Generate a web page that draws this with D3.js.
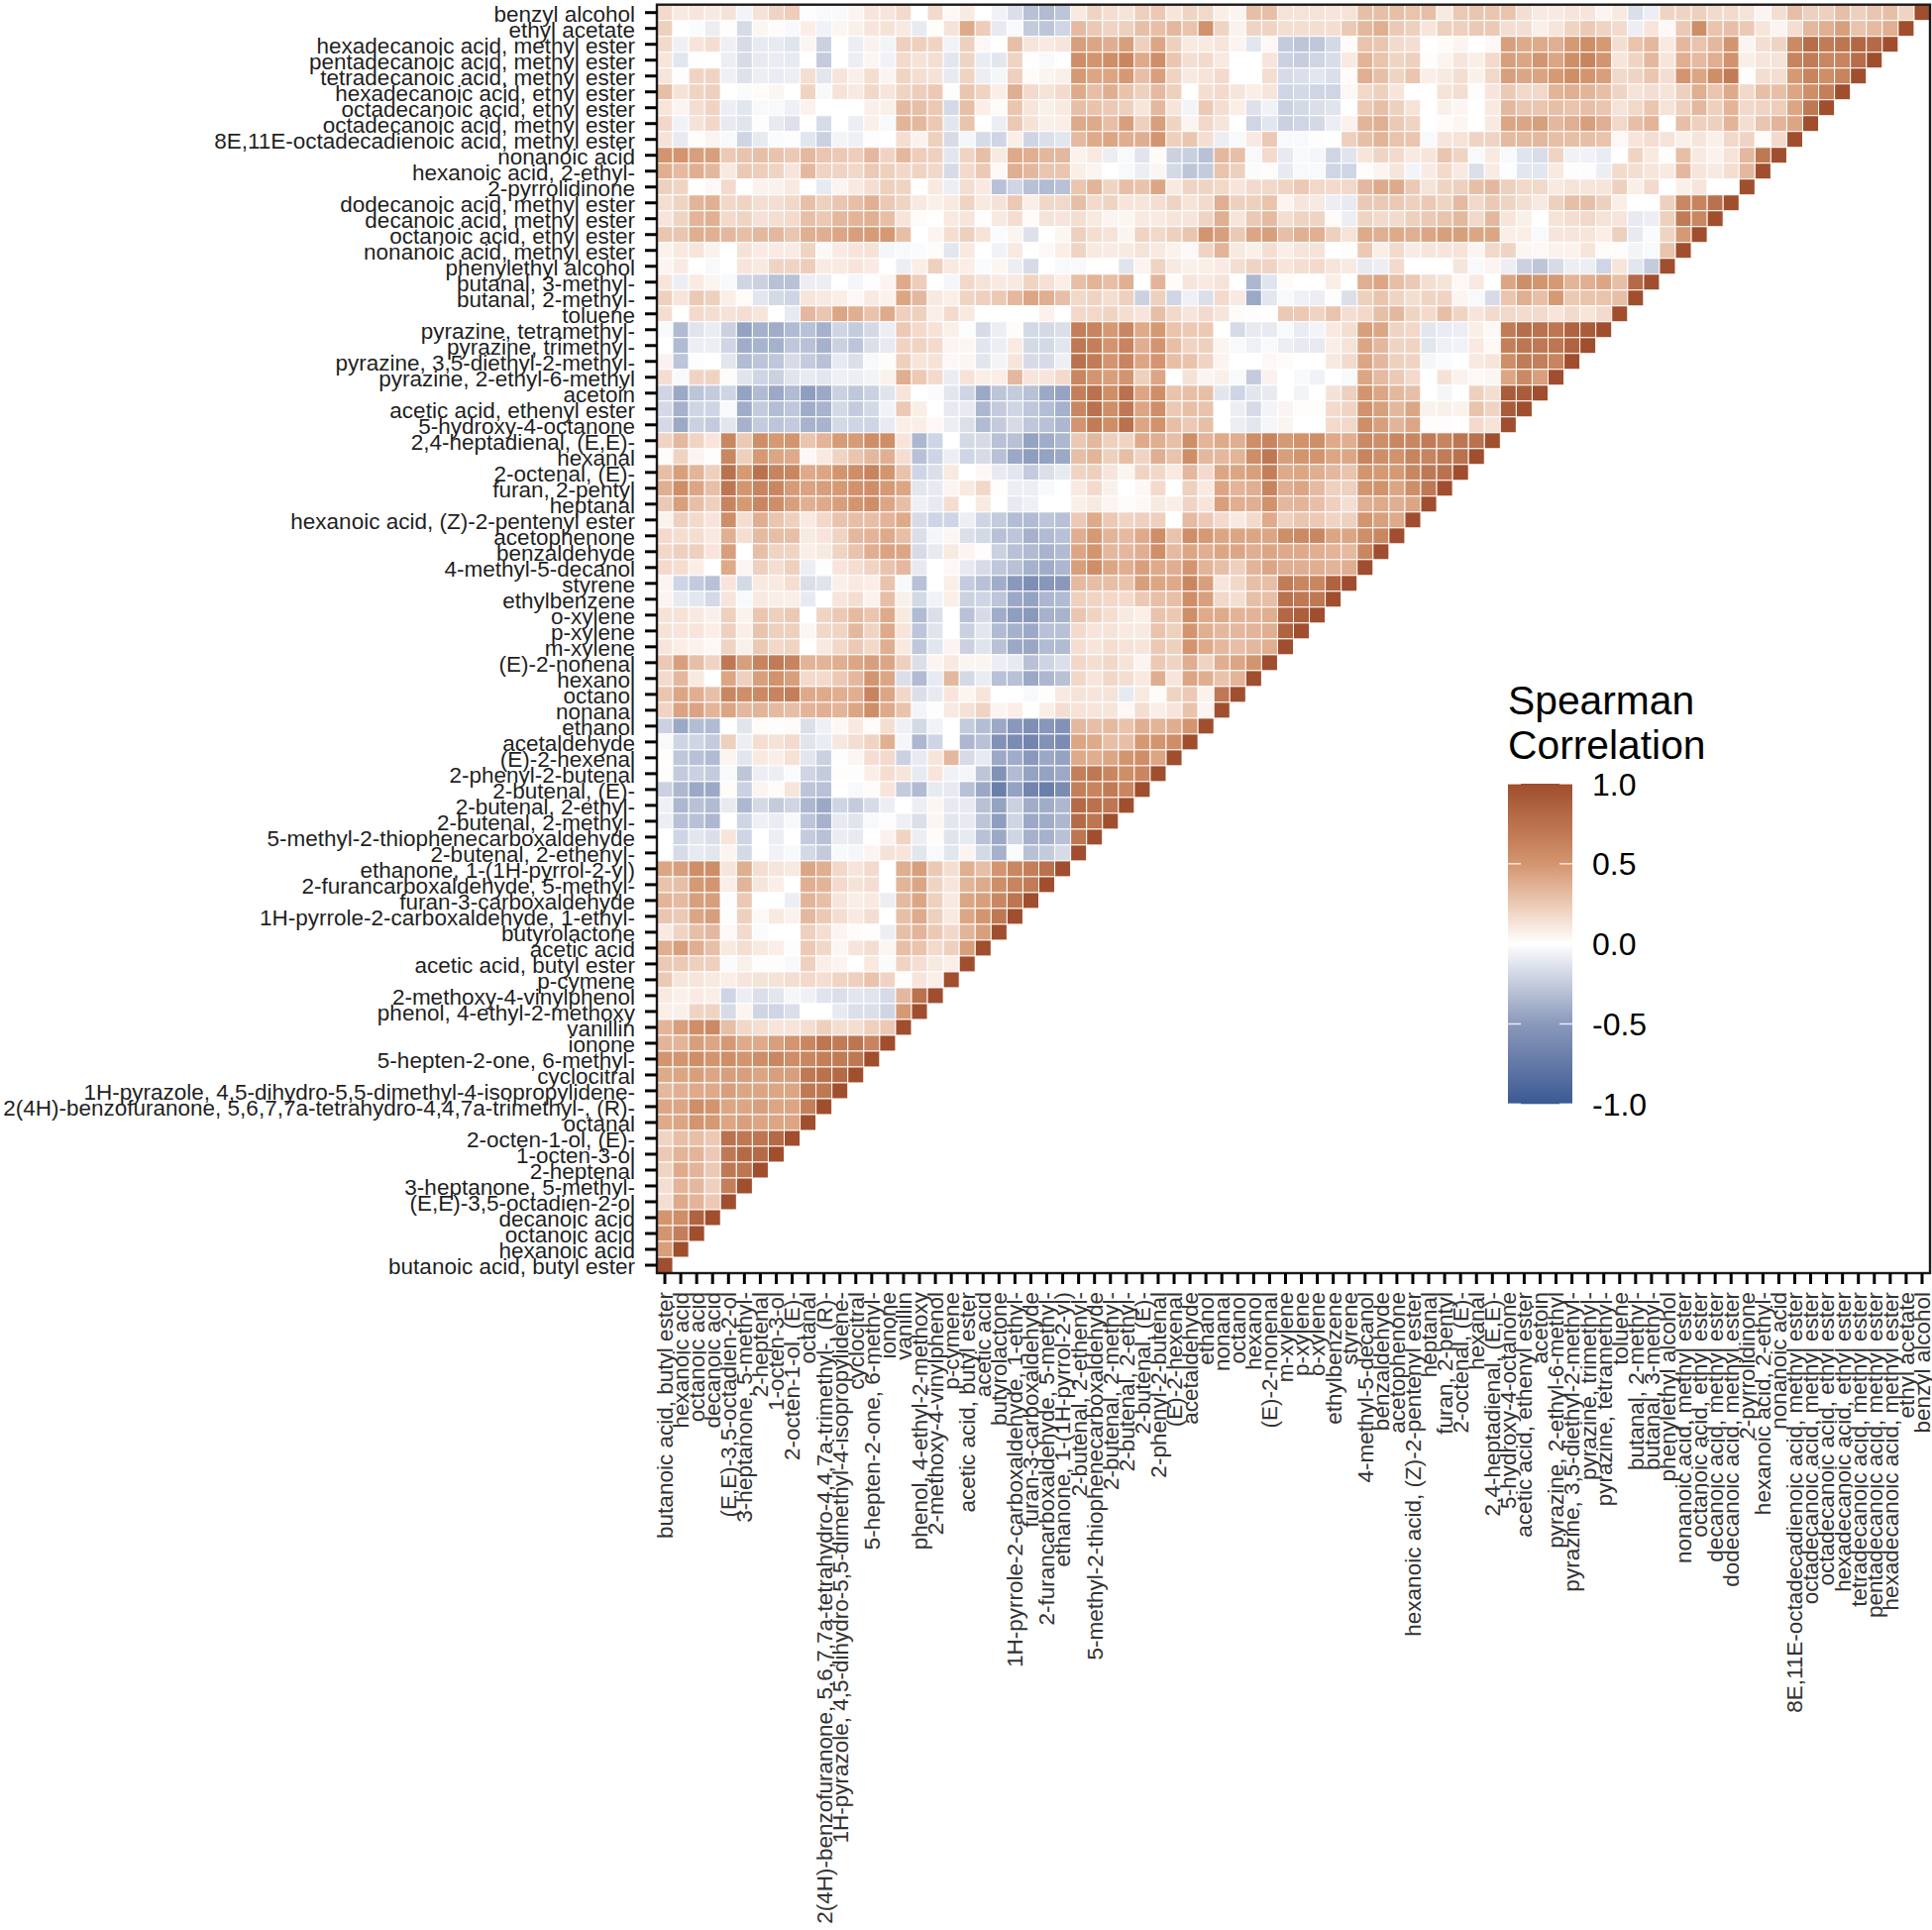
<!DOCTYPE html>
<html><head><meta charset="utf-8">
<script src="https://cdn.jsdelivr.net/npm/d3@7"></script>
<style>html,body{margin:0;padding:0;background:#fff}svg{display:block}text{font-family:"Liberation Sans",Arial,sans-serif}</style>
</head><body><div id="chart"></div>
<script>
// compounds, top to bottom on the y axis; the x axis runs the opposite way
const compounds = ["benzyl alcohol","ethyl acetate","hexadecanoic acid, methyl ester","pentadecanoic acid, methyl ester","tetradecanoic acid, methyl ester","hexadecanoic acid, ethyl ester","octadecanoic acid, ethyl ester","octadecanoic acid, methyl ester","8E,11E-octadecadienoic acid, methyl ester","nonanoic acid","hexanoic acid, 2-ethyl-","2-pyrrolidinone","dodecanoic acid, methyl ester","decanoic acid, methyl ester","octanoic acid, ethyl ester","nonanoic acid, methyl ester","phenylethyl alcohol","butanal, 3-methyl-","butanal, 2-methyl-","toluene","pyrazine, tetramethyl-","pyrazine, trimethyl-","pyrazine, 3,5-diethyl-2-methyl-","pyrazine, 2-ethyl-6-methyl","acetoin","acetic acid, ethenyl ester","5-hydroxy-4-octanone","2,4-heptadienal, (E,E)-","hexanal","2-octenal, (E)-","furan, 2-pentyl","heptanal","hexanoic acid, (Z)-2-pentenyl ester","acetophenone","benzaldehyde","4-methyl-5-decanol","styrene","ethylbenzene","o-xylene","p-xylene","m-xylene","(E)-2-nonenal","hexanol","octanol","nonanal","ethanol","acetaldehyde","(E)-2-hexenal","2-phenyl-2-butenal","2-butenal, (E)-","2-butenal, 2-ethyl-","2-butenal, 2-methyl-","5-methyl-2-thiophenecarboxaldehyde","2-butenal, 2-ethenyl-","ethanone, 1-(1H-pyrrol-2-yl)","2-furancarboxaldehyde, 5-methyl-","furan-3-carboxaldehyde","1H-pyrrole-2-carboxaldehyde, 1-ethyl-","butyrolactone","acetic acid","acetic acid, butyl ester","p-cymene","2-methoxy-4-vinylphenol","phenol, 4-ethyl-2-methoxy","vanillin","ionone","5-hepten-2-one, 6-methyl-","cyclocitral","1H-pyrazole, 4,5-dihydro-5,5-dimethyl-4-isopropylidene-","2(4H)-benzofuranone, 5,6,7,7a-tetrahydro-4,4,7a-trimethyl-, (R)-","octanal","2-octen-1-ol, (E)-","1-octen-3-ol","2-heptenal","3-heptanone, 5-methyl-","(E,E)-3,5-octadien-2-ol","decanoic acid","octanoic acid","hexanoic acid","butanoic acid, butyl ester"];

// Spearman correlation x100, one list per y-axis row, read left to right from the first x category
const row00=[17,10,12,10,13,-5,13,20,23,-1,-3,-3,5,12,12,17,0,17,3,9,0,-6,-15,-30,-33,-28,10,20,15,13,22,25,12,20,18,8,5,30,30,13,13,13,12,13,30,30,30,28,30,10,25,27,27,28,15,10,10,12,12,5,10,-15,-8,20,20,22,17,17,13,5,15,30,22,22,30,22,27,30,20,100];
const row01=[22,0,-2,-8,1,-17,4,2,-3,8,-6,4,7,12,13,10,-10,1,13,40,23,-10,-3,-25,-28,-20,32,25,20,22,30,30,33,28,52,20,6,20,20,15,15,15,15,25,33,38,25,22,12,22,22,25,25,15,15,7,12,20,25,20,17,-8,12,3,25,55,28,30,25,12,5,15,33,38,45,28,32,38,100];
const row02=[17,-7,12,15,-7,-17,-10,-10,-13,4,-22,0,-8,6,-5,22,22,20,-6,22,3,0,30,12,10,12,45,42,38,45,22,42,22,10,10,12,5,-12,3,-25,-28,-27,-18,2,28,27,17,15,0,2,5,0,3,45,40,40,38,48,55,48,15,28,33,10,33,28,33,50,5,15,20,58,78,68,72,82,80,100];
const row03=[12,-12,0,0,-8,-17,-10,-9,-10,0,-25,0,-8,4,-6,17,13,15,-12,20,-9,-12,20,0,-3,0,55,50,55,60,40,55,27,15,17,10,0,0,12,-22,-24,-20,-16,10,35,28,20,22,1,5,12,8,17,45,42,50,42,55,62,50,12,20,33,12,38,32,38,52,8,12,13,62,68,60,62,78,100];
const row04=[12,-1,20,20,-7,-14,-8,-9,-8,15,-12,12,7,15,5,20,15,13,-10,20,-8,-4,22,2,5,7,48,42,42,48,30,45,20,10,13,17,0,0,15,-17,-15,-12,-15,2,38,30,20,27,8,10,15,7,18,45,42,43,48,55,50,45,18,20,27,15,50,42,55,68,1,15,15,48,62,55,62,100];
const row05=[30,13,20,22,0,-2,2,4,0,20,-3,13,10,18,12,20,23,25,-1,27,20,8,38,17,13,17,40,30,38,28,22,32,22,0,15,17,12,8,12,-20,-18,-20,-20,3,18,22,12,0,0,13,15,1,12,25,18,18,35,38,35,30,20,13,15,13,22,38,27,40,18,30,30,42,55,65,100];
const row06=[12,5,15,20,-8,-12,-3,-3,-7,6,0,0,0,7,7,32,30,25,-18,30,8,2,27,12,7,10,30,28,25,22,12,33,12,-5,25,15,8,-14,-6,-22,-18,-15,-13,0,25,30,22,13,0,7,4,0,10,33,27,27,30,28,30,27,13,18,27,13,22,33,22,35,18,20,23,42,70,100];
const row07=[18,-6,13,18,-10,-13,-1,-10,-14,0,-17,0,-8,7,-3,35,33,25,-12,28,0,-8,25,13,7,8,40,40,30,45,22,45,20,5,18,12,0,-20,-12,-22,-20,-18,-8,6,35,38,25,20,0,2,4,0,10,42,42,45,33,38,45,38,18,30,35,0,30,22,22,35,15,27,35,42,100];
const row08=[13,-10,1,5,-3,-20,-10,-2,-1,-12,-22,-5,-7,-1,0,15,6,22,-17,-4,-17,-20,8,-20,-15,-12,32,40,42,38,38,50,22,27,15,-8,-3,10,25,-3,-3,-1,0,22,30,35,28,27,-3,12,13,20,20,32,32,33,30,30,30,28,3,12,15,13,7,12,7,18,20,2,17,100];
const row09=[50,50,45,45,25,28,30,28,25,33,27,25,23,33,20,33,23,22,-12,20,30,10,40,38,33,33,6,10,-8,-3,-13,2,-22,-23,-30,33,30,-3,17,-10,-3,-4,-20,-13,12,20,17,10,12,27,20,-3,10,-3,-13,-16,20,-6,-6,-9,0,20,10,-1,30,10,6,13,33,70,100];
const row10=[38,32,38,33,10,25,23,20,12,33,20,20,18,25,22,18,20,18,-17,17,25,3,38,33,27,27,8,5,0,-3,-8,4,-18,-28,-25,28,22,-2,1,-10,-3,-3,-20,-20,1,5,12,-5,9,17,10,-15,9,-1,-12,-12,10,-1,-1,-8,17,15,12,10,33,12,10,15,33,100];
const row11=[22,20,0,3,17,0,6,6,10,0,-10,5,10,15,22,20,0,10,-8,15,10,-30,-20,-30,-33,-30,27,35,20,30,28,42,10,20,20,18,12,17,18,20,25,18,17,18,33,40,40,25,13,20,22,30,33,22,18,18,10,13,12,12,22,8,17,0,7,12,0,0,100];
const row12=[15,20,35,37,18,20,15,15,18,30,22,27,30,37,25,20,10,7,10,20,10,13,25,8,18,18,30,17,20,12,12,15,20,13,17,38,22,22,28,5,12,10,-8,-10,25,25,25,22,25,20,32,18,25,20,15,10,22,30,30,22,8,0,0,22,60,62,75,100];
const row13=[12,20,35,37,17,20,14,15,17,30,25,33,35,37,30,12,2,0,10,12,1,10,15,2,13,12,15,10,5,4,10,9,12,12,20,38,12,25,32,15,20,20,2,-8,20,17,17,22,25,28,33,18,33,12,7,0,13,15,18,13,12,-10,-8,22,68,60,100];
const row14=[27,27,38,37,33,30,33,33,27,38,38,42,45,47,48,30,0,5,15,22,13,-2,5,-14,0,4,22,15,13,5,20,18,22,27,50,45,25,42,45,30,37,37,22,13,40,38,40,38,42,45,45,42,42,8,8,-3,12,12,12,8,22,-10,-2,20,48,100];
const row15=[6,10,12,6,0,13,9,9,9,20,3,9,12,13,-4,-3,-2,2,-12,10,0,-6,10,0,3,8,20,10,9,10,13,10,6,3,20,35,10,7,15,8,12,13,0,-1,25,8,17,9,12,12,13,5,18,20,4,3,6,6,12,2,1,-5,-3,28,100];
const row16=[5,9,0,-3,0,12,10,20,20,23,9,10,12,9,0,-8,8,22,10,8,-2,4,-8,-17,0,-3,-3,0,0,-13,5,20,10,7,8,9,15,20,20,12,15,17,12,10,-10,-8,17,0,0,0,12,-3,5,-8,-22,-28,-17,-8,-8,-20,12,-12,-25,100];
const row17=[12,-8,9,5,-3,-20,-22,-30,-30,-8,-8,0,-4,-1,5,40,23,0,-4,18,13,10,10,20,14,8,30,35,30,37,0,35,2,12,10,13,0,-35,-13,2,0,0,8,0,38,42,30,25,15,13,3,10,0,42,55,50,48,35,38,42,30,80,100];
const row18=[22,12,25,22,8,2,-12,-18,-20,12,10,8,3,10,6,42,33,10,8,20,22,25,33,42,38,30,18,20,15,22,-22,22,-20,-7,-15,17,10,-42,-12,-3,-7,-8,-1,-15,22,28,20,15,20,20,5,-3,-17,27,38,30,48,25,28,28,30,100];
const row19=[15,0,17,15,13,15,12,0,-10,33,27,42,38,28,40,22,22,8,17,10,0,0,0,0,6,0,18,18,20,15,12,30,18,12,17,12,2,-1,0,25,25,20,28,15,18,30,33,20,17,30,20,12,17,18,16,17,12,17,12,17,100];
const row20=[-3,-33,-13,-9,-22,-45,-38,-40,-33,-30,-38,-20,-25,-18,-8,25,17,13,7,-1,-17,-8,2,-18,-18,-15,65,62,48,60,40,48,28,25,25,0,-17,-10,-10,-3,-9,-5,10,15,45,42,20,18,-12,-9,-8,8,3,68,78,75,72,85,90,100];
const row21=[0,-33,-8,-8,-20,-40,-37,-38,-27,-30,-38,-22,-28,-15,-10,20,20,17,5,4,-12,-8,9,-18,-18,-12,70,65,50,62,38,50,30,20,22,5,-3,-7,-3,-8,-10,-10,8,13,42,33,20,20,-12,-7,-6,10,3,65,72,70,72,85,100];
const row22=[6,-28,-1,0,-12,-33,-28,-27,-17,-25,-30,-10,-15,-3,2,22,12,13,3,4,-12,-5,12,-17,-17,-7,75,68,50,62,42,50,30,28,20,5,0,0,3,2,0,0,10,17,42,33,22,20,-4,-2,0,10,12,55,68,65,62,100];
const row23=[15,-3,20,20,2,-13,-20,-22,-13,-10,-12,-7,-8,-5,6,38,25,17,-9,13,8,8,33,12,12,17,60,50,45,50,22,42,0,13,5,7,-3,-25,6,0,-3,-6,0,-3,42,32,25,17,0,13,6,3,4,42,58,45,100];
const row24=[-20,-42,-28,-25,-20,-45,-33,-42,-33,-48,-42,-22,-27,-22,-13,12,0,-2,-12,-20,-42,-28,-25,-30,-42,-45,65,75,55,75,42,55,28,30,30,-12,-20,-12,-10,0,-5,0,13,22,50,42,33,30,0,-4,0,22,15,90,90,100];
const row25=[-18,-38,-20,-20,-3,-40,-25,-32,-27,-40,-37,-18,-25,-18,-6,25,8,0,-10,-10,-35,-25,-20,-27,-32,-38,60,75,55,70,42,55,25,30,28,0,-8,-17,-5,5,1,1,17,20,52,45,33,42,6,7,6,28,20,90,100];
const row26=[-18,-42,-22,-25,-12,-38,-25,-28,-25,-37,-37,-18,-20,-20,-10,8,8,3,-8,-15,-33,-25,-17,-27,-30,-35,50,68,55,75,42,52,30,25,30,0,-8,-12,-4,5,0,0,17,18,55,45,35,42,1,1,0,17,13,100];
const row27=[20,33,20,12,60,25,55,48,50,27,35,47,47,55,55,12,-35,-20,0,-18,-17,-30,-30,-45,-40,-35,25,33,22,20,40,38,30,55,35,40,38,55,62,48,52,55,40,38,58,55,60,60,68,62,72,75,100];
const row28=[2,20,5,-1,60,22,48,42,40,3,10,20,27,33,37,15,-30,-20,-8,-20,-17,-30,-42,-48,-45,-42,30,35,22,30,20,38,28,55,33,33,35,55,70,45,50,50,42,42,62,55,52,62,62,68,75,100];
const row29=[30,45,35,22,75,48,75,62,60,40,42,50,55,62,50,28,-20,-15,10,0,3,-10,-12,-25,-15,-10,20,22,12,5,20,18,10,33,17,42,42,45,65,40,42,38,33,28,50,48,48,60,70,75,100];
const row30=[38,55,42,30,72,50,62,60,47,43,45,48,52,55,48,42,-12,-10,5,10,18,1,-8,-8,-3,0,10,17,7,0,3,17,0,22,10,42,35,38,62,38,42,32,22,22,50,52,42,55,70,100];
const row31=[25,45,30,22,62,48,60,55,45,37,40,45,50,55,42,30,-7,-10,15,0,10,0,-10,-7,0,0,7,10,5,2,3,10,8,20,12,45,38,38,52,33,35,30,22,15,38,40,38,42,100];
const row32=[6,22,17,12,55,15,38,27,22,10,18,28,30,30,35,40,-17,-20,-20,-8,-20,-25,-32,-33,-28,-30,25,40,25,20,22,22,0,32,25,17,10,17,40,22,27,25,20,22,50,45,40,100];
const row33=[17,15,15,10,37,15,32,30,30,10,12,20,33,35,40,30,-15,-4,4,-15,-18,-30,-28,-38,-33,-30,38,48,35,32,40,55,28,55,48,42,42,42,42,55,58,60,42,42,55,60,100];
const row34=[18,22,22,12,45,0,30,20,20,8,10,20,28,38,43,42,-17,-10,10,5,1,-22,-30,-33,-37,-33,42,50,33,33,38,55,32,42,38,42,42,38,42,40,40,38,35,32,60,100];
const row35=[17,15,8,0,40,4,22,15,22,-8,-1,12,15,20,28,33,-10,0,3,-10,-17,-27,-30,-38,-40,-35,45,55,42,38,45,40,38,50,35,30,22,35,42,38,38,38,35,38,100];
const row36=[5,-20,-25,-30,12,-18,10,10,15,-15,-13,7,10,8,28,-3,-30,0,8,-25,-30,-40,-50,-58,-52,-50,32,30,30,28,45,42,40,60,45,12,18,30,30,68,60,60,85,100];
const row37=[5,-10,-12,-18,12,-3,10,8,8,-10,0,12,15,6,30,7,-18,-6,8,-22,-20,-28,-42,-45,-35,-33,22,20,18,17,25,30,30,55,45,18,15,30,30,75,70,70,100];
const row38=[13,13,10,7,22,6,27,22,25,0,20,25,32,27,40,10,-33,-15,0,-30,-17,-40,-48,-50,-38,-37,27,20,15,10,8,28,25,55,40,40,35,35,38,82,88,100];
const row39=[13,12,12,8,22,8,28,22,22,4,18,20,33,20,40,12,-28,-13,0,-22,-12,-33,-38,-42,-30,-30,17,12,13,10,10,28,22,50,38,33,33,35,38,85,100];
const row40=[12,8,6,3,20,7,25,18,20,0,10,18,25,18,38,10,-27,-12,5,-22,-13,-30,-42,-43,-33,-33,15,12,15,13,12,25,22,50,40,33,30,33,38,100];
const row41=[25,45,30,20,70,45,62,68,62,35,35,38,42,45,42,22,-15,5,10,5,5,-8,-10,-30,-20,-15,18,15,18,13,5,25,20,38,20,38,42,50,100];
const row42=[17,33,10,0,42,22,45,52,45,17,17,25,33,50,42,-15,-33,-10,33,-18,-9,-30,-30,-42,-35,-30,18,12,18,15,10,38,12,42,38,28,35,100];
const row43=[27,42,38,30,60,55,58,62,65,40,40,38,38,62,42,18,-15,-10,12,5,12,0,0,-3,1,10,13,12,13,-10,10,2,20,25,6,70,100];
const row44=[20,43,43,35,42,33,35,32,30,35,37,35,42,55,40,28,-5,-1,10,14,20,5,8,0,8,15,13,12,12,3,15,8,12,28,5,100];
const row45=[-22,-42,-32,-33,0,-13,2,1,2,-15,-7,3,10,2,15,-7,-18,-6,0,-25,-32,-42,-50,-58,-52,-55,33,30,32,28,38,35,38,50,100];
const row46=[-3,-20,-20,-25,22,-8,15,13,17,-13,-9,11,15,20,37,-4,-35,-20,0,-35,-30,-55,-60,-65,-55,-60,42,40,30,30,48,50,55,100];
const row47=[1,-27,-30,-33,5,-12,10,8,14,-12,-22,-1,4,15,17,-22,-10,12,33,-17,-10,-42,-40,-50,-42,-45,40,38,42,50,55,42,100];
const row48=[1,-25,-22,-25,-3,-28,-8,-8,-2,-20,-25,1,1,8,15,12,-10,12,-6,-4,-28,-55,-33,-45,-45,-42,65,70,60,55,60,100];
const row49=[-22,-35,-42,-42,2,-22,5,2,12,-28,-30,0,-3,2,12,-25,-33,-10,-10,-30,-42,-70,-45,-65,-70,-60,65,62,68,60,100];
const row50=[-7,-35,-30,-33,-10,-35,-18,-25,-20,-35,-42,-20,-25,-17,-8,0,-8,4,-10,-10,-30,-45,-22,-40,-40,-35,80,75,72,100];
const row51=[-8,-30,-30,-35,0,-20,-7,-9,-3,-28,-38,-10,-13,-3,-1,-7,-15,4,-12,-10,-28,-48,-20,-42,-40,-35,80,72,100];
const row52=[0,-20,-12,-15,12,-20,0,-8,0,-25,-30,-9,-10,0,6,20,-8,2,-13,-10,-30,-42,-20,-38,-38,-30,72,100];
const row53=[0,-17,-10,-12,5,-18,0,-6,-3,-18,-25,-3,-4,5,13,12,-12,-3,-12,5,-18,-38,-2,-30,-25,-17,100];
const row54=[42,45,55,55,12,38,15,12,10,42,38,18,12,17,0,38,45,25,15,38,30,50,60,65,75,100];
const row55=[28,30,48,50,8,35,12,8,0,38,35,17,13,15,0,35,42,20,12,35,40,55,62,68,100];
const row56=[35,32,45,45,-1,25,0,0,-8,35,30,12,8,10,-8,32,42,22,10,42,45,60,72,100];
const row57=[27,25,42,45,-1,22,3,10,6,33,25,15,10,15,0,30,40,22,10,42,50,70,100];
const row58=[10,20,30,33,3,17,-2,0,0,22,15,5,2,1,-8,30,35,25,18,35,45,100];
const row59=[38,45,38,30,10,15,10,8,1,25,18,4,12,15,4,30,28,17,22,45,100];
const row60=[25,25,22,22,-2,7,1,1,-3,22,8,5,0,10,-2,20,15,10,8,100];
const row61=[25,12,12,10,8,12,13,13,15,17,15,20,22,28,20,1,12,8,100];
const row62=[10,7,9,8,-20,-8,-15,-12,-4,-7,-13,-15,-12,-13,-17,33,75,100];
const row63=[8,7,20,20,-17,5,-20,-20,-15,0,0,-10,-15,-15,-20,48,100];
const row64=[35,45,55,58,30,18,15,12,12,15,22,15,15,22,25,100];
const row65=[35,35,45,42,48,40,40,45,50,60,72,68,72,62,100];
const row66=[50,50,55,50,55,50,55,60,55,60,65,68,70,100];
const row67=[40,42,45,42,45,45,42,45,45,70,75,80,100];
const row68=[33,37,40,40,45,42,42,42,42,70,70,100];
const row69=[42,42,55,50,42,42,45,42,42,65,100];
const row70=[40,42,50,48,42,45,42,42,42,100];
const row71=[20,30,30,25,75,70,72,80,100];
const row72=[25,35,35,25,70,80,80,100];
const row73=[20,40,35,25,70,72,100];
const row74=[15,35,33,22,65,100];
const row75=[15,40,35,25,100];
const row76=[50,55,85,100];
const row77=[50,65,100];
const row78=[45,100];
const row79=[100];
const correlationRows=[row00,row01,row02,row03,row04,row05,row06,row07,row08,row09,row10,row11,row12,row13,row14,row15,row16,row17,row18,row19,row20,row21,row22,row23,row24,row25,row26,row27,row28,row29,row30,row31,row32,row33,row34,row35,row36,row37,row38,row39,row40,row41,row42,row43,row44,row45,row46,row47,row48,row49,row50,row51,row52,row53,row54,row55,row56,row57,row58,row59,row60,row61,row62,row63,row64,row65,row66,row67,row68,row69,row70,row71,row72,row73,row74,row75,row76,row77,row78,row79];
const legendTitle=["Spearman","Correlation"];
const legendTicks=[1,0.5,0,-0.5,-1];

const W=1950,H=1948;
const xLabels=compounds.slice().reverse();
const x=d3.scaleBand().domain(xLabels).range([663,1948]);
const y=d3.scaleBand().domain(compounds).range([4.7,1285]);
const color=d3.scaleLinear().domain([-1,-0.5,0,0.5,1]).range(["#3a5a93","#8a99bb","#ffffff","#d3956f","#a04e2d"]).interpolate(d3.interpolateLab);

const svg=d3.select("#chart").append("svg").attr("width",W).attr("height",H).attr("viewBox",`0 0 ${W} ${H}`);
svg.append("rect").attr("width",W).attr("height",H).attr("fill","#fff");

const cells=correlationRows.flatMap((row,r)=>row.map((v,c)=>({r:compounds[r],c:xLabels[c],v:v/100})));
svg.append("g").selectAll("rect").data(cells).join("rect")
  .attr("x",d=>x(d.c)).attr("y",d=>y(d.r))
  .attr("width",x.bandwidth()).attr("height",y.bandwidth())
  .attr("fill",d=>color(d.v)).attr("stroke","#fff").attr("stroke-width",1);

svg.append("rect").attr("x",663).attr("y",4.7).attr("width",1285).attr("height",1280.3)
  .attr("fill","none").attr("stroke","#1a1a1a").attr("stroke-width",2.4);

const yAxis=svg.append("g").attr("transform","translate(663,0)")
  .call(d3.axisLeft(y).tickSize(12).tickPadding(10));
yAxis.select(".domain").remove();
yAxis.selectAll(".tick line").attr("stroke","#000").attr("stroke-width",3);
yAxis.selectAll(".tick text").attr("font-size",22.5).attr("fill","#1f1f1f").attr("font-family",'"Liberation Sans"').attr("dy","0.41em");

const xAxis=svg.append("g").attr("transform","translate(0,1285)")
  .call(d3.axisBottom(x).tickSize(11).tickPadding(10));
xAxis.select(".domain").remove();
xAxis.selectAll(".tick line").attr("stroke","#000").attr("stroke-width",3);
xAxis.selectAll(".tick text").attr("font-size",22.5).attr("fill","#333").attr("font-family",'"Liberation Sans"')
  .attr("text-anchor","end").attr("y",null)
  .attr("transform","translate(0,19) rotate(-90)").attr("dy","0.35em");

// legend
const leg=d3.scaleLinear().domain([-1,1]).range([1114.3,791]);
const lx0=1522,lx1=1587;
const defs=svg.append("defs");
const grad=defs.append("linearGradient").attr("id","legendRamp").attr("x1",0).attr("x2",0).attr("y1",0).attr("y2",1);
d3.range(0,41).forEach(i=>grad.append("stop").attr("offset",i/40).attr("stop-color",color(1-i/20)));
const lg=svg.append("g");
lg.append("rect").attr("x",lx0).attr("width",lx1-lx0).attr("y",leg(1)).attr("height",leg(-1)-leg(1)).attr("fill","url(#legendRamp)");
legendTicks.forEach(t=>{
  [[lx0,lx0+13],[lx1-13,lx1]].forEach(s=>lg.append("line").attr("x1",s[0]).attr("x2",s[1]).attr("y1",leg(t)).attr("y2",leg(t)).attr("stroke",t===0?"none":"#fff").attr("stroke-opacity",0.8).attr("stroke-width",1.5));
  lg.append("text").attr("x",1607).attr("y",leg(t)+11.5).attr("font-size",32).attr("fill","#000").text(t.toFixed(1));
});
legendTitle.forEach((s,i)=>lg.append("text").attr("x",1522).attr("y",721+i*45).attr("font-size",40.8).attr("fill","#000").text(s));
</script>
</body></html>
